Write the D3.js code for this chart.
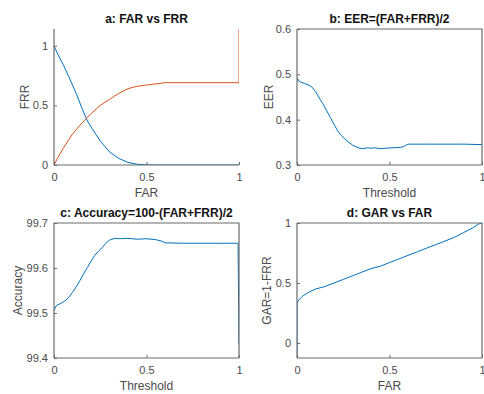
<!DOCTYPE html>
<html>
<head>
<meta charset="utf-8">
<script src="https://cdn.jsdelivr.net/npm/d3@7"></script>
<style>
  body { margin: 0; background: #fff; }
  text { font-family: "Liberation Sans", Arial, sans-serif; }
</style>
</head>
<body>
<svg id="chart"></svg>
<script>
// 1. Data

// a: FAR vs FRR (two curves)
const farX  = [0, 0.02, 0.05, 0.08, 0.1, 0.12, 0.15, 0.18, 0.2, 0.25, 0.3, 0.35, 0.4, 0.45, 0.5, 0.55, 1.0]
const farY  = [1.0, 0.93, 0.84, 0.74, 0.67, 0.6, 0.48, 0.37, 0.32, 0.2, 0.11, 0.055, 0.022, 0.006, 0.001, 0, 0]
const frrX  = [0, 0.02, 0.05, 0.1, 0.15, 0.2, 0.25, 0.3, 0.35, 0.4, 0.45, 0.5, 0.55, 0.6, 1.0, 1.0]
const frrY  = [0, 0.06, 0.14, 0.26, 0.35, 0.43, 0.5, 0.55, 0.6, 0.64, 0.66, 0.67, 0.68, 0.69, 0.69, 1.2]

// b: EER vs threshold
const eerX = [0, 0.005, 0.01, 0.02, 0.04, 0.06, 0.08, 0.1, 0.12, 0.14, 0.16, 0.18, 0.2, 0.22, 0.24, 0.26, 0.28, 0.3,
              0.32, 0.34, 0.36, 0.38, 0.4, 0.42, 0.45, 0.48, 0.52, 0.56, 0.58, 0.59, 0.6, 0.7, 0.8, 0.9, 1.0]
const eerY = [0.492, 0.49, 0.485, 0.483, 0.48, 0.477, 0.472, 0.462, 0.448, 0.435, 0.42, 0.405, 0.39, 0.375, 0.365,
              0.357, 0.35, 0.344, 0.34, 0.337, 0.336, 0.338, 0.337, 0.338, 0.336, 0.337, 0.338, 0.339, 0.341, 0.344,
              0.346, 0.346, 0.346, 0.346, 0.345]

// c: accuracy vs threshold
const accX = [0, 0.01, 0.02, 0.04, 0.06, 0.08, 0.1, 0.12, 0.14, 0.16, 0.18, 0.2, 0.22, 0.24, 0.26, 0.28, 0.3,
              0.33, 0.36, 0.4, 0.45, 0.5, 0.55, 0.58, 0.6, 0.7, 0.8, 0.9, 0.995, 1.0]
const accY = [99.505, 99.515, 99.518, 99.522, 99.527, 99.535, 99.546, 99.558, 99.572, 99.587, 99.601, 99.615,
              99.628, 99.637, 99.645, 99.655, 99.662, 99.666, 99.665, 99.666, 99.664, 99.665, 99.663, 99.66,
              99.656, 99.655, 99.655, 99.655, 99.655, 99.43]

// d: GAR vs FAR
const garX = [0, 0, 0.01, 0.03, 0.06, 0.1, 0.15, 0.2, 0.25, 0.3, 0.35, 0.4, 0.45, 0.5, 0.55, 0.6, 0.65, 0.7,
              0.75, 0.8, 0.85, 0.9, 0.95, 0.98, 1.0]
const garY = [-0.125, 0.33, 0.36, 0.39, 0.42, 0.45, 0.47, 0.5, 0.53, 0.56, 0.59, 0.62, 0.64, 0.67, 0.7, 0.73,
              0.76, 0.79, 0.82, 0.85, 0.88, 0.92, 0.96, 0.99, 1.0]

const xTicks = [0, 0.5, 1]

// 2. Dimensions

const width = 484
const height = 394
const BLUE = "#0072BD"
const ORANGE = "#D95319"
const AXIS = "#6a6a6a"
const LABEL = "#4a4a4a"

const panels = [
  { id: "a", left: 54, top: 29, right: 239, bottom: 165, box: false,
    title: "a: FAR vs FRR", xLabel: "FAR", yLabel: "FRR", yLabelX: 25,
    yDomain: [0, 1.14], yTicks: [0, 0.5, 1], yFmt: d => d,
    series: [{ x: farX, y: farY, color: BLUE }, { x: frrX, y: frrY, color: ORANGE }] },
  { id: "b", left: 297, top: 29, right: 482, bottom: 165, box: true,
    title: "b: EER=(FAR+FRR)/2", xLabel: "Threshold", yLabel: "EER", yLabelX: 269,
    yDomain: [0.3, 0.6], yTicks: [0.3, 0.4, 0.5, 0.6], yFmt: d3.format(".1f"),
    series: [{ x: eerX, y: eerY, color: BLUE }] },
  { id: "c", left: 54, top: 223, right: 239, bottom: 358, box: true,
    title: "c: Accuracy=100-(FAR+FRR)/2", xLabel: "Threshold", yLabel: "Accuracy", yLabelX: 18,
    yDomain: [99.4, 99.7], yTicks: [99.4, 99.5, 99.6, 99.7], yFmt: d3.format(".1f"),
    series: [{ x: accX, y: accY, color: BLUE }] },
  { id: "d", left: 297, top: 223, right: 482, bottom: 358, box: true,
    title: "d: GAR vs FAR", xLabel: "FAR", yLabel: "GAR=1-FRR", yLabelX: 267,
    yDomain: [-0.125, 1], yTicks: [0, 0.5, 1], yFmt: d => d,
    series: [{ x: garX, y: garY, color: BLUE }] },
]

// 3. Draw canvas

const svg = d3.select("#chart")
    .attr("width", width)
    .attr("height", height)

svg.append("rect")
    .attr("width", width)
    .attr("height", height)
    .attr("fill", "#fff")

const defs = svg.append("defs")

// 4. Draw each panel

panels.forEach(p => {
  const xScale = d3.scaleLinear().domain([0, 1]).range([p.left, p.right])
  const yScale = d3.scaleLinear().domain(p.yDomain).range([p.bottom, p.top])

  defs.append("clipPath")
      .attr("id", "clip-" + p.id)
    .append("rect")
      .attr("x", p.left)
      .attr("y", p.top)
      .attr("width", p.right - p.left)
      .attr("height", p.bottom - p.top)

  const g = svg.append("g")

  // lines
  const line = d3.line()
      .x(d => xScale(d[0]))
      .y(d => yScale(d[1]))

  p.series.forEach(s => {
    const pts = s.x.map((v, i) => [v, s.y[i]])
    g.append("path")
        .datum(pts)
        .attr("clip-path", `url(#clip-${p.id})`)
        .attr("d", line)
        .attr("fill", "none")
        .attr("stroke", s.color)
        .attr("stroke-width", 1)
  })

  // axes (matlab style: inward ticks)
  const xAxis = g.append("g")
      .attr("transform", `translate(0,${p.bottom})`)
      .call(d3.axisBottom(xScale).tickValues(xTicks).tickSize(-3).tickPadding(8).tickFormat(d => d))
  const yAxis = g.append("g")
      .attr("transform", `translate(${p.left},0)`)
      .call(d3.axisLeft(yScale).tickValues(p.yTicks).tickSize(-3).tickPadding(6).tickFormat(p.yFmt))

  ;[xAxis, yAxis].forEach(ax => {
    ax.select(".domain").attr("stroke", AXIS).attr("stroke-width", 1.2)
    ax.selectAll(".tick line").attr("stroke", AXIS)
    ax.selectAll(".tick text")
        .attr("fill", LABEL)
        .style("font-size", "11px")
        .style("font-family", '"Liberation Sans", Arial, sans-serif')
  })
  xAxis.select(".domain").attr("d", `M${p.left},0H${p.right}`)
  yAxis.select(".domain").attr("d", `M0,${p.top}V${p.bottom}`)

  if (p.box) {
    g.append("path")
        .attr("d", `M${p.left},${p.top}H${p.right}V${p.bottom}`)
        .attr("fill", "none")
        .attr("stroke", AXIS)
        .attr("stroke-width", 1.2)
  }

  // title and labels
  const cx = (p.left + p.right) / 2
  g.append("text")
      .attr("x", cx)
      .attr("y", p.top - 6)
      .attr("text-anchor", "middle")
      .style("font-size", "12px")
      .style("font-weight", "bold")
      .attr("fill", "#111")
      .text(p.title)

  g.append("text")
      .attr("x", cx)
      .attr("y", p.bottom + 32)
      .attr("text-anchor", "middle")
      .style("font-size", "12px")
      .attr("fill", LABEL)
      .text(p.xLabel)

  g.append("text")
      .attr("transform", `translate(${p.yLabelX + 4},${(p.top + p.bottom) / 2}) rotate(-90)`)
      .attr("text-anchor", "middle")
      .style("font-size", "12px")
      .attr("fill", LABEL)
      .text(p.yLabel)
})
</script>
</body>
</html>
